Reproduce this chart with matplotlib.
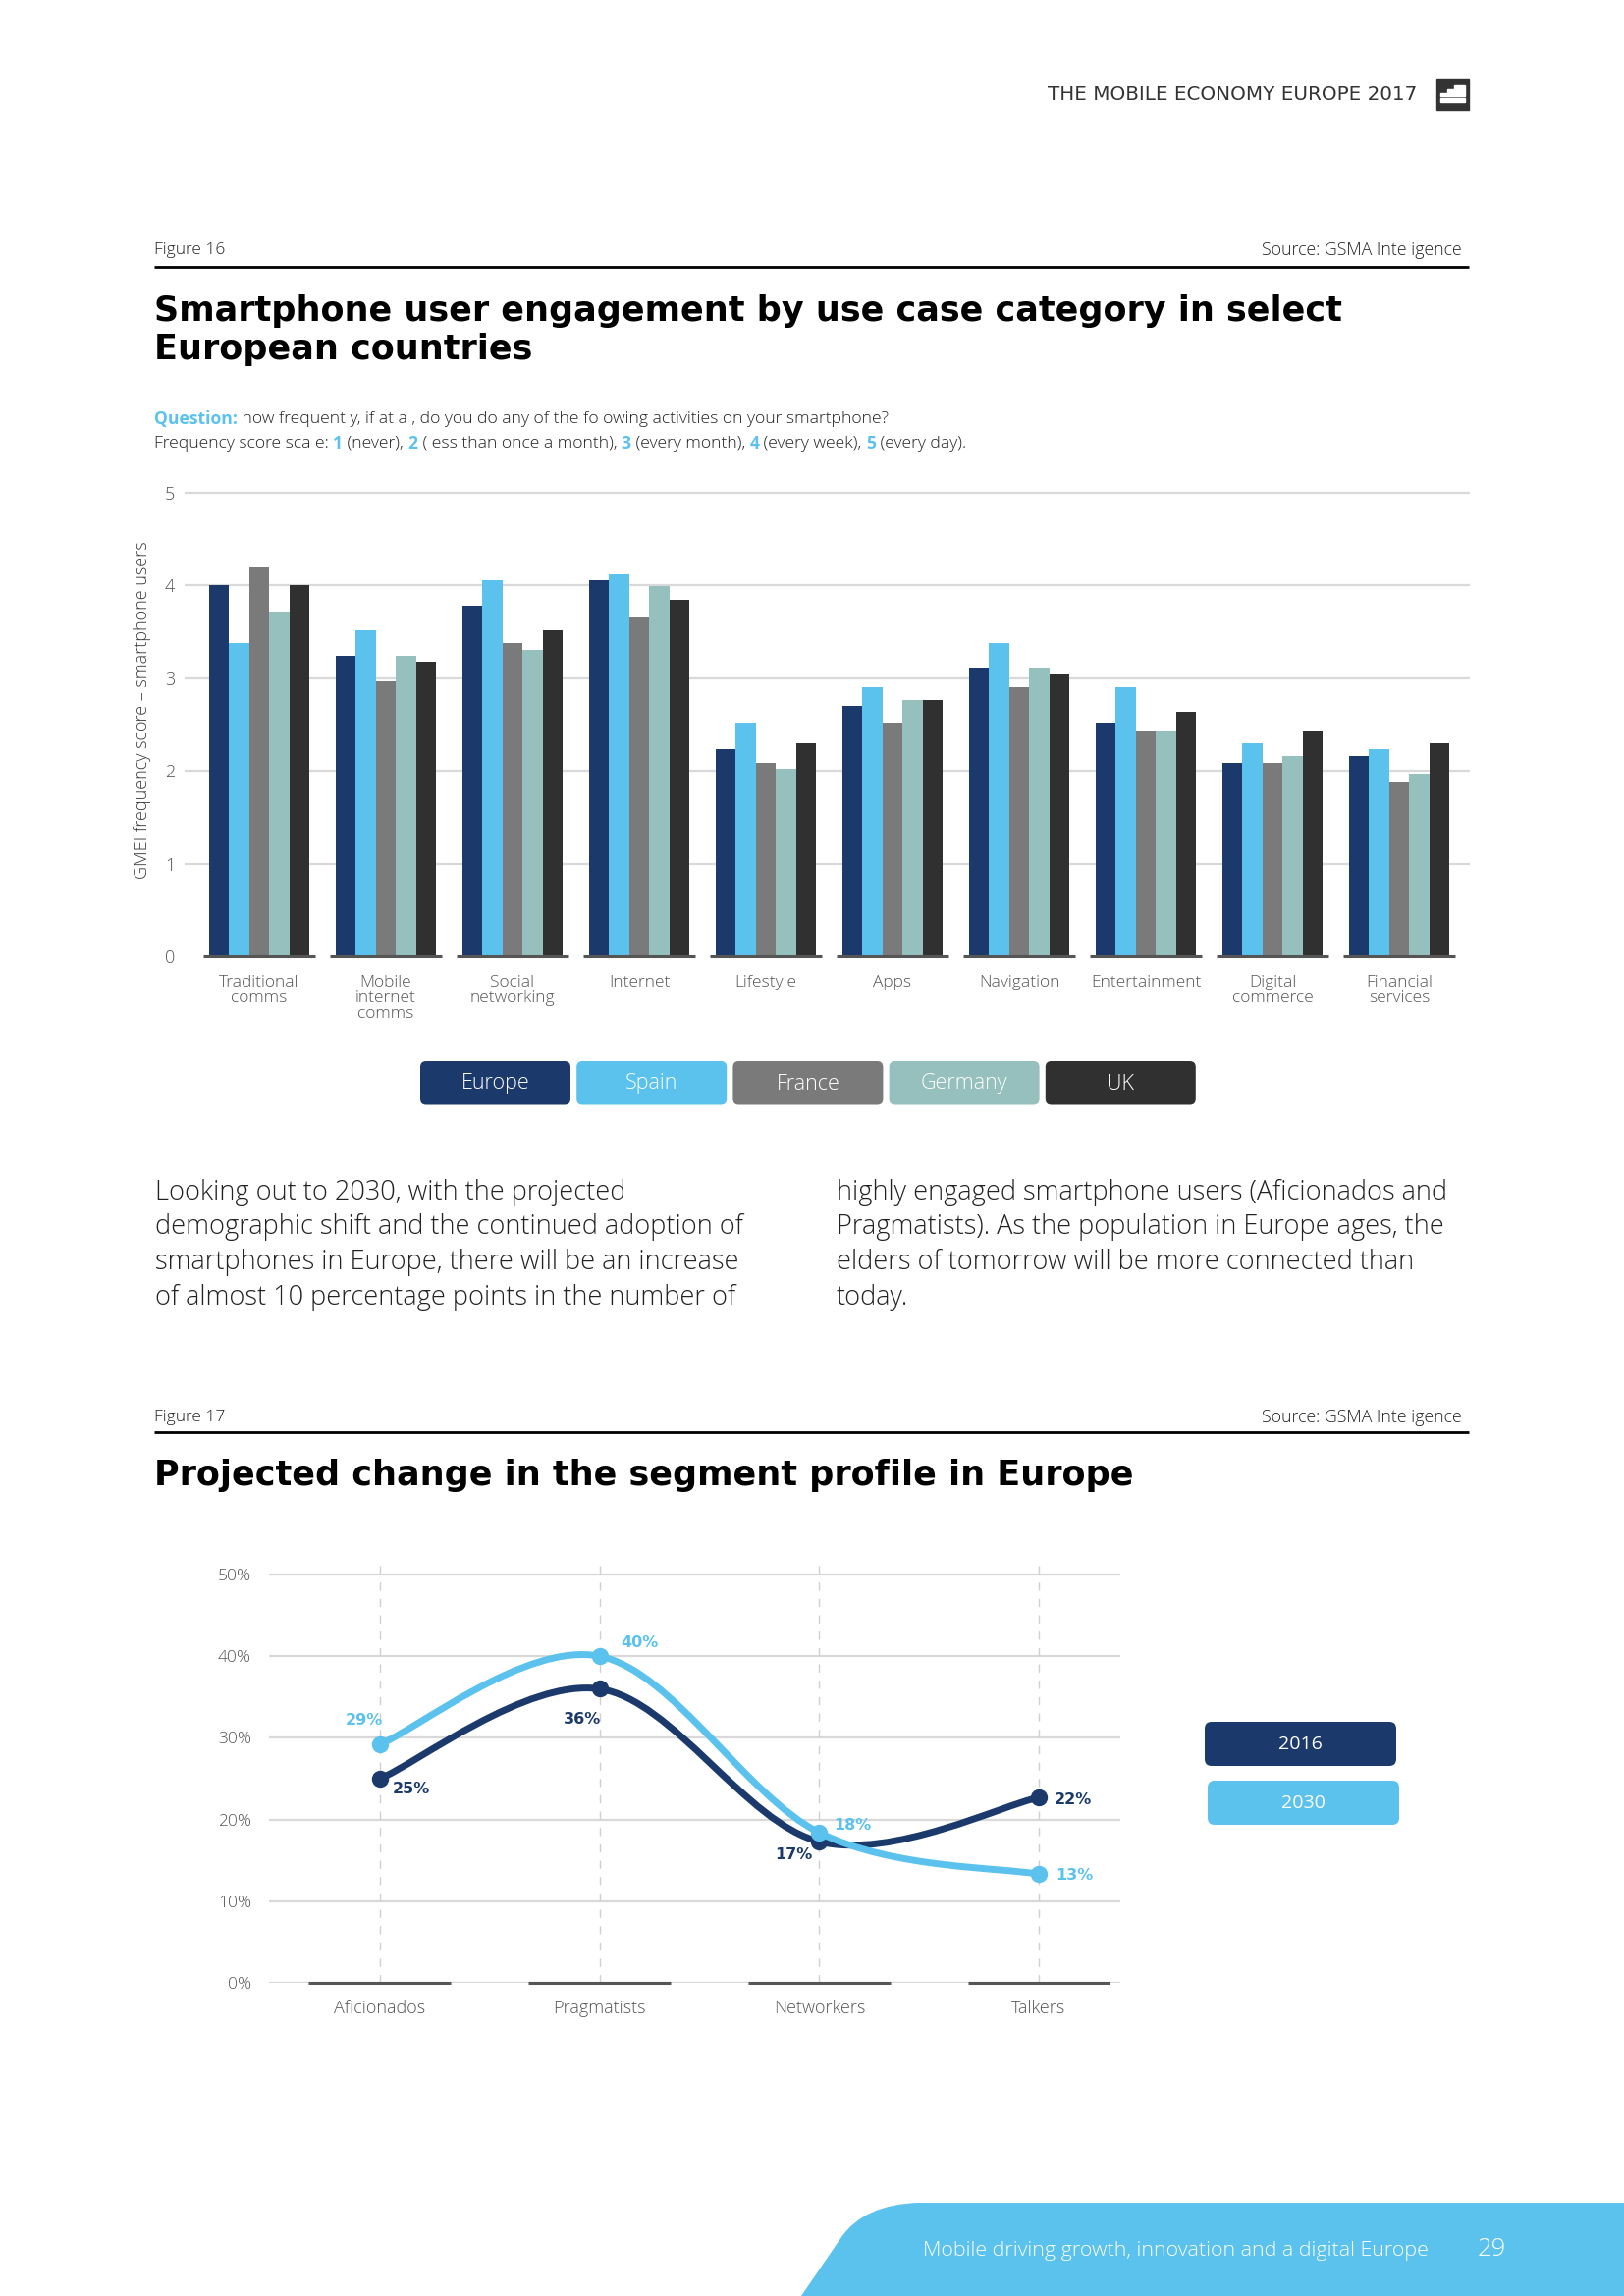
import matplotlib
matplotlib.use('Agg')
import matplotlib.pyplot as plt
from matplotlib.patches import FancyBboxPatch, PathPatch, Rectangle
from matplotlib.path import Path

W, H = 1654, 2339
DPI = 100

# ---------------- data ----------------
categories = ["Traditional\ncomms", "Mobile\ninternet\ncomms", "Social\nnetworking", "Internet",
              "Lifestyle", "Apps", "Navigation", "Entertainment", "Digital\ncommerce", "Financial\nservices"]
countries = ["Europe", "Spain", "France", "Germany", "UK"]
europe = [4.00, 3.24, 3.78, 4.06, 2.23, 2.70, 3.10, 2.51, 2.09, 2.16]
spain = [3.38, 3.52, 4.06, 4.12, 2.51, 2.90, 3.38, 2.90, 2.30, 2.23]
france = [4.19, 2.97, 3.38, 3.65, 2.09, 2.51, 2.90, 2.43, 2.09, 1.88]
germany = [3.72, 3.24, 3.30, 3.99, 2.02, 2.77, 3.10, 2.43, 2.16, 1.96]
uk = [4.00, 3.18, 3.52, 3.85, 2.30, 2.77, 3.04, 2.64, 2.43, 2.30]
bar_yticks = [0, 1, 2, 3, 4, 5]

segments = ["Aficionados", "Pragmatists", "Networkers", "Talkers"]
years = ["2016", "2030"]
share_2016 = [25.0, 36.0, 17.3, 22.7]
share_2030 = [29.2, 40.0, 18.4, 13.3]
line_yticks = [0, 10, 20, 30, 40, 50]

# ---------------- style ----------------
NAVY, SKY, GREY, SAGE, DARK = '#1b3a6b', '#5bc2ed', '#7a7a7a', '#95c0bd', '#303030'
country_colors = [NAVY, SKY, GREY, SAGE, DARK]
year_colors = [NAVY, SKY]
GRID = '#d9d9d9'
TXT = '#555555'
LIGHT = dict(family=['Open Sans', 'DejaVu Sans'], weight=300)
REG = dict(family=['Open Sans', 'DejaVu Sans'], weight='normal')
BOLD = dict(family=['Open Sans', 'DejaVu Sans'], weight='bold')

fig = plt.figure(figsize=(W / DPI, H / DPI), dpi=DPI)
fig.patch.set_facecolor('white')

# page overlay axes in pixel coordinates (y downwards)
page = fig.add_axes([0, 0, 1, 1], zorder=0)
page.set_xlim(0, W)
page.set_ylim(H, 0)
page.axis('off')


def ax_rect(left, top, right, bottom):
    return [left / W, 1 - bottom / H, (right - left) / W, (bottom - top) / H]


renderer = fig.canvas.get_renderer()


def text_width(s, size, props):
    t1 = page.text(0, 0, 'a' + s + 'a', fontsize=size, **props)
    t2 = page.text(0, 0, 'aa', fontsize=size, **props)
    w = t1.get_window_extent(renderer).width - t2.get_window_extent(renderer).width
    t1.remove(); t2.remove()
    return w


def rich(x, y, pieces, size):
    cur = x
    for s, color, props in pieces:
        page.text(cur, y, s, color=color, fontsize=size, va='center', ha='left', **props)
        cur += text_width(s, size, props)


# ---------------- header ----------------
page.text(1443, 96, "THE MOBILE ECONOMY EUROPE 2017", fontsize=14.3, family='DejaVu Sans',
          color='#333333', ha='right', va='center')
page.add_patch(Rectangle((1463, 80), 33, 32, color='#333333'))
page.add_patch(Rectangle((1481, 87), 11, 4, color='white'))
page.add_patch(Rectangle((1474, 91), 18, 4, color='white'))
page.add_patch(Rectangle((1467, 95), 25, 3, color='white'))
page.add_patch(Rectangle((1467, 100), 25, 4, color='white'))

# ---------------- Figure 16 ----------------
page.text(157, 255, "Figure 16", fontsize=12.5, color='#222222', ha='left', va='center', **LIGHT)
page.text(1489, 255, "Source: GSMA Inte igence", fontsize=12.8, color='#222222', ha='right', va='center', **LIGHT)
page.plot([157, 1496], [271.5, 271.5], color='black', lw=2, solid_capstyle='butt')
page.text(157, 326.7, "Smartphone user engagement by use case category in select", fontsize=25.2,
          family='DejaVu Sans', weight='bold', color='black', ha='left', va='baseline')
page.text(157, 366, "European countries", fontsize=25.2,
          family='DejaVu Sans', weight='bold', color='black', ha='left', va='baseline')

rich(157, 426.7, [("Question:", SKY, BOLD),
                  (" how frequent y, if at a , do you do any of the fo owing activities on your smartphone?", '#222222', LIGHT)], 12.6)
rich(157, 451.7, [("Frequency score sca e: ", '#222222', LIGHT), ("1", SKY, BOLD), (" (never), ", '#222222', LIGHT),
                  ("2", SKY, BOLD), (" ( ess than once a month), ", '#222222', LIGHT), ("3", SKY, BOLD),
                  (" (every month), ", '#222222', LIGHT), ("4", SKY, BOLD), (" (every week), ", '#222222', LIGHT),
                  ("5", SKY, BOLD), (" (every day).", '#222222', LIGHT)], 12.6)

# ---------------- bar chart ----------------
ax1 = fig.add_axes(ax_rect(188, 497.3, 1496.5, 974), zorder=2)
ax1.set_facecolor('none')
series = [europe, spain, france, germany, uk]
n_groups = len(categories)
bw = 0.158
xs = list(range(n_groups))
for k, (vals, col) in enumerate(zip(series, country_colors)):
    offs = (k - 2) * bw
    ax1.bar([x + offs for x in xs], vals, width=bw, color=col, zorder=3, linewidth=0)
for v in bar_yticks[1:]:
    ax1.axhline(v, color=GRID, lw=1.6, zorder=1)
ax1.hlines([0] * n_groups, [x - 0.445 for x in xs], [x + 0.445 for x in xs], color='#555555', lw=2.2,
           zorder=4, clip_on=False)
ax1.set_xlim(-0.589, 9.554)
ax1.set_ylim(0, 5.05)
ax1.set_yticks(bar_yticks)
ax1.set_yticklabels([str(v) for v in bar_yticks], fontsize=13, color=TXT, **LIGHT)
ax1.set_xticks(xs)
ax1.set_xticklabels(categories, fontsize=12.5, color=TXT, linespacing=1.0, **LIGHT)
ax1.tick_params(axis='both', length=0)
ax1.tick_params(axis='y', pad=7)
ax1.tick_params(axis='x', pad=14)
for s in ax1.spines.values():
    s.set_visible(False)
page.text(145, 723, "GMEI frequency score \u2013 smartphone users", rotation=90, fontsize=13,
          color='#3a3a3a', ha='center', va='center', **LIGHT)

# legend boxes
box_x0, box_w, box_pitch = 428, 153, 159.2
for k, (name, col) in enumerate(zip(countries, country_colors)):
    x0 = box_x0 + k * box_pitch
    page.add_patch(FancyBboxPatch((x0, 1081), box_w, 44.5, boxstyle="round,pad=0,rounding_size=6",
                                  facecolor=col, edgecolor='none'))
    page.text(x0 + box_w / 2, 1104, name, fontsize=15.5, color='white', ha='center', va='center', **LIGHT)

# ---------------- body text ----------------
left_lines = ["Looking out to 2030, with the projected",
              "demographic shift and the continued adoption of",
              "smartphones in Europe, there will be an increase",
              "of almost 10 percentage points in the number of"]
right_lines = ["highly engaged smartphone users (Aficionados and",
               "Pragmatists). As the population in Europe ages, the",
               "elders of tomorrow will be more connected than",
               "today."]
for i, ln in enumerate(left_lines):
    page.text(157.5, 1221.7 + 35.8 * i, ln, fontsize=19.5, color='#222222', ha='left', va='baseline', **LIGHT)
for i, ln in enumerate(right_lines):
    page.text(852, 1221.7 + 35.8 * i, ln, fontsize=19.5, color='#222222', ha='left', va='baseline', **LIGHT)

# ---------------- Figure 17 ----------------
page.text(157, 1444, "Figure 17", fontsize=12.5, color='#222222', ha='left', va='center', **LIGHT)
page.text(1489, 1444, "Source: GSMA Inte igence", fontsize=12.8, color='#222222', ha='right', va='center', **LIGHT)
page.plot([157, 1496], [1459, 1459], color='black', lw=2, solid_capstyle='butt')
page.text(157, 1513, "Projected change in the segment profile in Europe", fontsize=25.2,
          family='DejaVu Sans', weight='bold', color='black', ha='left', va='baseline')

ax2 = fig.add_axes(ax_rect(274, 1593.2, 1141, 2020), zorder=2)
ax2.set_facecolor('none')
sx = list(range(len(segments)))
ax2.set_xlim(-0.505, 3.371)
ax2.set_ylim(0, 51.3)
for v in line_yticks:
    ax2.axhline(v, color=GRID, lw=1.6, zorder=1)
for x in sx:
    ax2.axvline(x, color='#d0d0d0', lw=1.0, linestyle=(0, (6, 6)), zorder=1)
ax2.hlines([0] * len(sx), [x - 0.324 for x in sx], [x + 0.324 for x in sx], color='#555555', lw=2.2,
           zorder=2, clip_on=False)


def smooth_path(xv, yv):
    pts = list(zip(xv, yv))
    n = len(pts)
    verts = [pts[0]]
    codes = [Path.MOVETO]
    for i in range(n - 1):
        p0 = pts[i - 1] if i > 0 else pts[i]
        p1 = pts[i]
        p2 = pts[i + 1]
        p3 = pts[i + 2] if i + 2 < n else pts[i + 1]
        c1 = (p1[0] + (p2[0] - p0[0]) / 6, p1[1] + (p2[1] - p0[1]) / 6)
        c2 = (p2[0] - (p3[0] - p1[0]) / 6, p2[1] - (p3[1] - p1[1]) / 6)
        verts += [c1, c2, p2]
        codes += [Path.CURVE4] * 3
    return Path(verts, codes)


label_offsets = {
    "2016": [(32, 10), (-18, 31), (-26, 13), (35, 2)],
    "2030": [(-16, -25), (41, -14), (34, -7), (36, 1)],
}
for k, (yr, vals, col) in enumerate(zip(years, [share_2016, share_2030], year_colors)):
    ax2.add_patch(PathPatch(smooth_path(sx, vals), facecolor='none', edgecolor=col, lw=5,
                            capstyle='round', joinstyle='round', zorder=3 + k))
    ax2.plot(sx, vals, 'o', ms=11.5, color=col, zorder=3 + k, label=yr)
    for x, v, off in zip(sx, vals, label_offsets[yr]):
        ax2.annotate(f"{int(v)}%", (x, v), xytext=(off[0], -off[1]), textcoords='offset pixels',
                     ha='center', va='center', fontsize=11.5, color=col, family='DejaVu Sans',
                     weight='bold', zorder=6)

ax2.set_yticks(line_yticks)
ax2.set_yticklabels([f"{v}%" for v in line_yticks], fontsize=12.5, color=TXT, **LIGHT)
ax2.set_xticks(sx)
ax2.set_xticklabels(segments, fontsize=13, color=TXT, **LIGHT)
ax2.tick_params(axis='both', length=0)
ax2.tick_params(axis='y', pad=13)
ax2.tick_params(axis='x', pad=12)
for s in ax2.spines.values():
    s.set_visible(False)

# legend boxes for line chart
for (bx, by), yr, col in zip([(1227, 1754), (1230, 1814)], years, year_colors):
    page.add_patch(FancyBboxPatch((bx, by), 195, 45, boxstyle="round,pad=0,rounding_size=7",
                                  facecolor=col, edgecolor='none'))
    page.text(bx + 97.5, by + 23, yr, fontsize=14, color='white', ha='center', va='center', **REG)

# ---------------- footer ----------------
fverts = [(816, H), (857, 2279), (880, 2246), (935, 2244), (W, 2244), (W, H), (816, H)]
fcodes = [Path.MOVETO, Path.LINETO, Path.CURVE3, Path.CURVE3, Path.LINETO, Path.LINETO, Path.CLOSEPOLY]
page.add_patch(PathPatch(Path(fverts, fcodes), facecolor=SKY, edgecolor='none'))
page.text(940, 2293, "Mobile driving growth, innovation and a digital Europe", fontsize=15.4, color='white',
          ha='left', va='center', **LIGHT)
page.text(1505, 2291, "29", fontsize=18.5, color='white', ha='left', va='center', **LIGHT)

fig.savefig('out.png', dpi=DPI)
